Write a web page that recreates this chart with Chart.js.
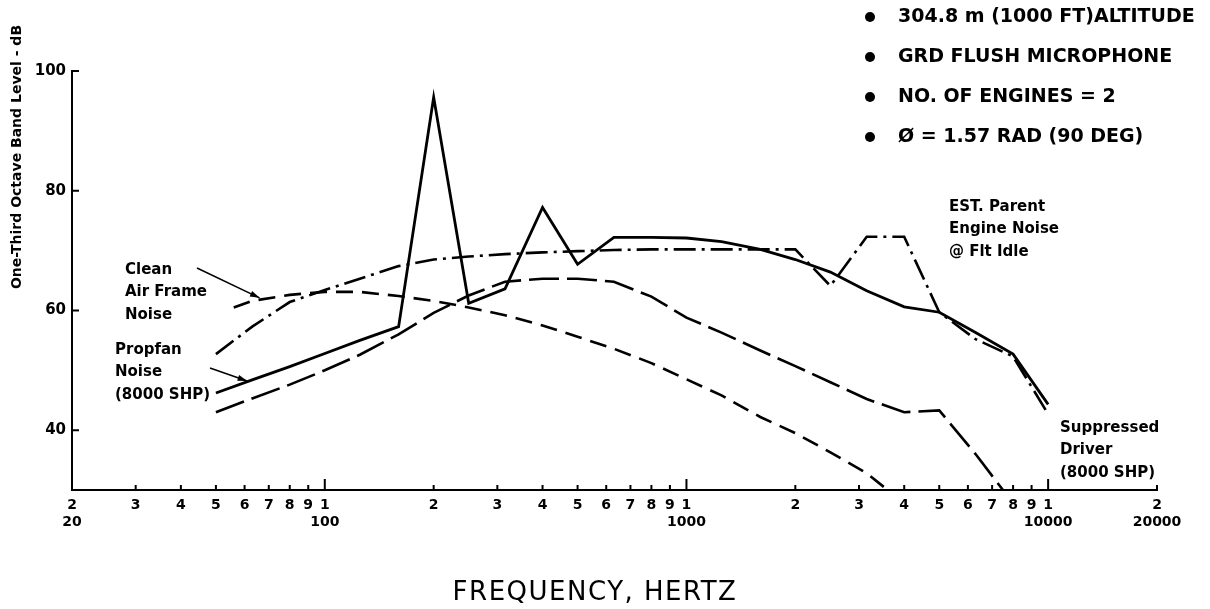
<!DOCTYPE html>
<html>
<head>
<meta charset="utf-8">
<script src="https://cdn.jsdelivr.net/npm/chart.js@4"></script>
<style>
  html, body { margin: 0; padding: 0; background: #fff; }
  #wrap { width: 1210px; height: 609px; }
</style>
</head>
<body>
<div id="wrap"><canvas id="myChart"></canvas></div>
<script>
// one-third octave band centre frequencies (Hz)
const bandFreq = [50, 63, 80, 100, 125, 160, 200, 250, 315, 400, 500, 630, 800,
  1000, 1250, 1600, 2000, 2500, 3150, 4000, 5000, 6300, 8000, 10000];

// Propfan noise (solid)
const propfanDb = [46.2, 48.4, 50.6, 52.8, 55.0, 57.3, 95.6, 61.2, 63.6, 77.2, 67.7, 72.2, 72.2,
  72.1, 71.5, 70.2, 68.5, 66.4, 63.3, 60.6, 59.7, 56.3, 52.7, 44.3];

// EST. parent engine noise @ flt idle (dash-dot)
const parentDb = [52.7, 57.3, 61.4, 63.4, 65.3, 67.4, 68.5, 69.0, 69.4, 69.7, 69.9, 70.1, 70.2,
  70.2, 70.2, 70.2, 70.2, 64.1, 72.3, 72.3, 59.7, 55.2, 52.3, 42.7];

// clean air frame noise (short dash)
const airframeFreq = [56, 63, 80, 100, 125, 160, 200, 250, 315, 400, 500, 630, 800,
  1000, 1250, 1600, 2000, 2500, 3150, 3600];
const airframeDb = [60.5, 61.6, 62.6, 63.1, 63.1, 62.4, 61.6, 60.5, 59.2, 57.5, 55.6, 53.6, 51.2,
  48.5, 45.8, 42.2, 39.5, 36.3, 32.8, 30.0];

// suppressed driver (long dash)
const driverFreq = [50, 63, 80, 100, 125, 160, 200, 250, 315, 400, 500, 630, 800,
  1000, 1250, 1600, 2000, 2500, 3150, 4000, 5000, 6300, 7500];
const driverDb = [43.0, 45.3, 47.6, 50.0, 52.6, 56.0, 59.6, 62.5, 64.8, 65.3, 65.3, 64.8, 62.3,
  58.8, 56.3, 53.3, 50.7, 48.0, 45.2, 43.0, 43.3, 36.0, 30.0];

// axis ticks
const xTicks = [20, 30, 40, 50, 60, 70, 80, 90, 100, 200, 300, 400, 500, 600, 700, 800, 900,
  1000, 2000, 3000, 4000, 5000, 6000, 7000, 8000, 9000, 10000, 20000];
const xBigTicks = [100, 1000, 10000];
const xSecondLine = { 20: "20", 100: "100", 1000: "1000", 10000: "10000", 20000: "20000" };
const yTicks = [40, 60, 80, 100];

const conditions = [
  "304.8 m (1000 FT)ALTITUDE",
  "GRD FLUSH MICROPHONE",
  "NO. OF ENGINES = 2",
  "Ø = 1.57 RAD (90 DEG)",
];

const pts = (xs, ys) => xs.map((f, i) => ({ x: f, y: ys[i] }));

const FONT = "'DejaVu Sans', sans-serif";

const overlay = {
  id: "overlay",
  afterDraw(chart) {
    const { ctx, chartArea: ca } = chart;
    const x = chart.scales.x, y = chart.scales.y;
    ctx.save();
    ctx.strokeStyle = "#000";
    ctx.fillStyle = "#000";
    ctx.lineWidth = 2;

    // inward tick marks
    ctx.beginPath();
    xTicks.forEach(v => {
      const px = x.getPixelForValue(v);
      const len = xBigTicks.includes(v) ? 11 : 5;
      ctx.moveTo(px, ca.bottom);
      ctx.lineTo(px, ca.bottom - len);
    });
    yTicks.forEach(v => {
      const py = y.getPixelForValue(v);
      ctx.moveTo(ca.left, py);
      ctx.lineTo(ca.left + 7, py);
    });
    ctx.stroke();

    // axis titles
    ctx.textAlign = "center";
    ctx.textBaseline = "middle";
    ctx.font = "26px " + FONT;
    ctx.letterSpacing = "1.5px";
    ctx.fillText("FREQUENCY, HERTZ", 595, 593);
    ctx.letterSpacing = "0px";

    ctx.save();
    ctx.translate(17, 157);
    ctx.rotate(-Math.PI / 2);
    ctx.font = "bold 14px " + FONT;
    ctx.fillText("One-Third Octave Band Level - dB", 0, 0);
    ctx.restore();

    // condition list, top right
    ctx.textAlign = "left";
    ctx.font = "bold 19px " + FONT;
    conditions.forEach((t, i) => {
      const cy = 17 + i * 40;
      ctx.beginPath();
      ctx.arc(870, cy, 5, 0, Math.PI * 2);
      ctx.fill();
      ctx.fillText(t, 898, cy);
    });

    // curve labels
    ctx.font = "bold 15px " + FONT;
    const block = (lines, lx, ly) => lines.forEach((t, i) => ctx.fillText(t, lx, ly + i * 22.5));
    block(["Clean", "Air Frame", "Noise"], 125, 270);
    block(["Propfan", "Noise", "(8000 SHP)"], 115, 350);
    block(["EST. Parent", "Engine Noise", "@ Flt Idle"], 949, 207);
    block(["Suppressed", "Driver", "(8000 SHP)"], 1060, 428);

    // leader arrows, tips sit on the curves
    const arrow = (x0, y0, f, db) => {
      const x1 = x.getPixelForValue(f), y1 = y.getPixelForValue(db);
      const a = Math.atan2(y1 - y0, x1 - x0);
      ctx.lineWidth = 1.5;
      ctx.beginPath();
      ctx.moveTo(x0, y0);
      ctx.lineTo(x1, y1);
      ctx.stroke();
      ctx.beginPath();
      ctx.moveTo(x1, y1);
      ctx.lineTo(x1 - 10 * Math.cos(a - 0.3), y1 - 10 * Math.sin(a - 0.3));
      ctx.lineTo(x1 - 10 * Math.cos(a + 0.3), y1 - 10 * Math.sin(a + 0.3));
      ctx.closePath();
      ctx.fill();
    };
    arrow(197, 268, 66, 62.1);
    arrow(210, 368, 61, 48.2);

    ctx.restore();
  },
};

const ctx = document.getElementById("myChart");

new Chart(ctx, {
  type: "line",
  data: {
    datasets: [
      {
        label: "Propfan Noise",
        data: pts(bandFreq, propfanDb),
        borderColor: "#000",
        borderWidth: 2.8,
      },
      {
        label: "EST. Parent Engine Noise",
        data: pts(bandFreq, parentDb),
        borderColor: "#000",
        borderWidth: 2.6,
        borderDash: [22, 6, 3, 6],
      },
      {
        label: "Clean Air Frame Noise",
        data: pts(airframeFreq, airframeDb),
        borderColor: "#000",
        borderWidth: 2.6,
        borderDash: [17, 9],
      },
      {
        label: "Suppressed Driver",
        data: pts(driverFreq, driverDb),
        borderColor: "#000",
        borderWidth: 2.6,
        borderDash: [30, 8],
      },
    ],
  },
  options: {
    responsive: true,
    maintainAspectRatio: false,
    animation: false,
    layout: { padding: { top: 71, right: 53, bottom: 0, left: 0 } },
    elements: { point: { radius: 0 }, line: { tension: 0, fill: false } },
    plugins: { legend: { display: false }, tooltip: { enabled: false } },
    scales: {
      x: {
        type: "logarithmic",
        min: 20,
        max: 20000,
        afterBuildTicks: s => { s.ticks = xTicks.map(v => ({ value: v })); },
        afterFit: s => { s.height = 119; },
        grid: { display: false, drawTicks: false },
        border: { display: true, color: "#000", width: 2 },
        ticks: {
          autoSkip: false,
          maxRotation: 0,
          padding: 7,
          color: "#000",
          font: { family: FONT, size: 14, weight: "bold" },
          callback: v => {
            const lead = String(Math.round(v / Math.pow(10, Math.floor(Math.log10(v) + 1e-9))));
            return xSecondLine[v] ? [lead, xSecondLine[v]] : lead;
          },
        },
      },
      y: {
        min: 30,
        max: 100,
        afterBuildTicks: s => { s.ticks = yTicks.map(v => ({ value: v })); },
        afterFit: s => { s.width = 72; },
        grid: { display: false, drawTicks: false },
        border: { display: true, color: "#000", width: 2 },
        ticks: {
          padding: 6,
          color: "#000",
          font: { family: FONT, size: 15, weight: "bold" },
        },
      },
    },
  },
  plugins: [overlay],
});
</script>
</body>
</html>
